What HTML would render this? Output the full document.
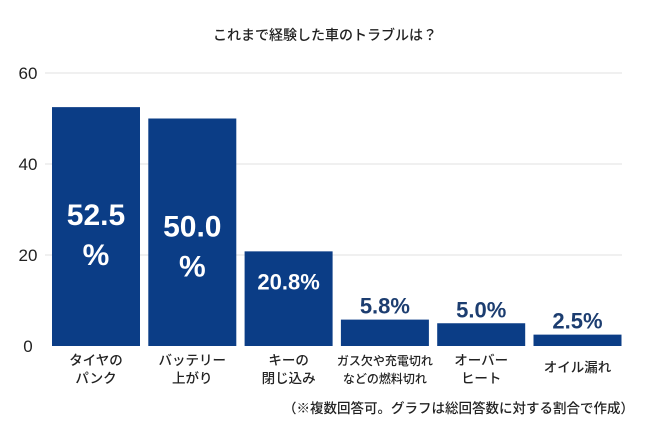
<!DOCTYPE html>
<html><head><meta charset="utf-8"><style>
body{margin:0;background:#fff;font-family:"Liberation Sans","Noto Sans CJK JP",sans-serif;}
svg text{font-family:"Liberation Sans","Noto Sans CJK JP",sans-serif;}
</style></head><body>
<svg width="650" height="434">
<text x="325" y="40" text-anchor="middle" font-size="14" font-weight="500" fill="#222">これまで経験した車のトラブルは？</text>
<g id="grid"></g><g id="bars"></g><g id="labels"></g>
<text x="634" y="413" text-anchor="end" font-size="13.5" font-weight="500" fill="#222">（※複数回答可。グラフは総回答数に対する割合で作成）</text>
</svg>
<script>
const categories=[["タイヤの","パンク"],["バッテリー","上がり"],["キーの","閉じ込み"],["ガス欠や充電切れ","などの燃料切れ"],["オーバー","ヒート"],["オイル漏れ"]];
const values=[52.5,50.0,20.8,5.8,5.0,2.5];
const valueLabels=["52.5%","50.0%","20.8%","5.8%","5.0%","2.5%"];
const ticks=[0,20,40,60];
const NS="http://www.w3.org/2000/svg";
const y0=346,ppu=91/20;
const y=v=>y0-v*ppu;
const x=i=>52+i*96.3;
const bw=88;
function mk(t,a,p){const e=document.createElementNS(NS,t);for(const k in a)e.setAttribute(k,a[k]);p.appendChild(e);return e;}
const g=document.getElementById('grid'),b=document.getElementById('bars'),l=document.getElementById('labels');
ticks.forEach(t=>{
 if(t>0){const ln=mk('line',{x1:45,x2:622,y1:y(t),y2:y(t),stroke:'#e2e2e2','stroke-width':1},g);
 
 }
 const tx=mk('text',{x:28,y:y(t)+6,'text-anchor':'middle','font-size':17,fill:'#222'},g);tx.textContent=t;
 
 
});
values.forEach((v,i)=>{
 const r=mk('rect',{x:x(i),y:y(v),width:bw,height:y0-y(v),fill:'#0b3d86'},b);
 
 
 const cx=x(i)+bw/2;
 const lab=valueLabels[i];
 if(v>40){
  const t=mk('text',{x:cx,y:y(v)+118,'text-anchor':'middle','font-size':30,'font-weight':'bold',fill:'#fff'},l);
  t.textContent=lab.replace('%','');
  
  
  const t2=mk('text',{x:cx,y:y(v)+158,'text-anchor':'middle','font-size':30,'font-weight':'bold',fill:'#fff'},l);t2.textContent='%';
  
  
 }else if(v>15){
  const t=mk('text',{x:cx,y:y(v)+38,'text-anchor':'middle','font-size':22,'font-weight':'bold',fill:'#fff'},l);t.textContent=lab;
  
  
 }else{
  const t=mk('text',{x:cx,y:y(v)-6,'text-anchor':'middle','font-size':22,'font-weight':'bold',fill:'#1c3d70'},l);t.textContent=lab;
  
  
 }
 const lines=categories[i];
 lines.forEach((s,j)=>{
  const yy=lines.length===1?372:365+j*18;
  const t=mk('text',{x:cx,y:yy,'text-anchor':'middle','font-size':lines[0].length>6?12:13.5,'font-weight':'500',fill:'#222'},l);t.textContent=s;
  
  
 });
});
</script>
</body></html>
